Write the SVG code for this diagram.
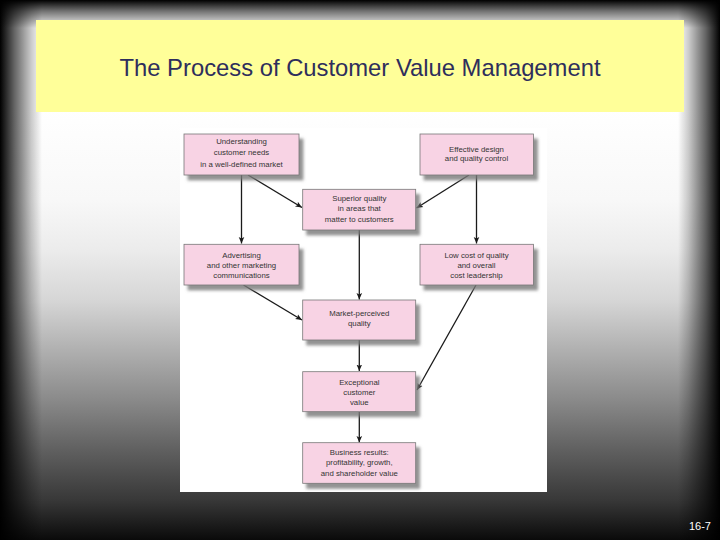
<svg xmlns="http://www.w3.org/2000/svg" width="720" height="540" viewBox="0 0 720 540">
<defs>
<linearGradient id="bgv" x1="0" y1="0" x2="0" y2="540" gradientUnits="userSpaceOnUse">
<stop offset="0" stop-color="#ffffff"/>
<stop offset="0.2" stop-color="#ffffff"/>
<stop offset="0.37" stop-color="#f8f8f8"/>
<stop offset="0.46" stop-color="#ececec"/>
<stop offset="0.556" stop-color="#d6d6d6"/>
<stop offset="0.648" stop-color="#b0b0b0"/>
<stop offset="0.74" stop-color="#8a8a8a"/>
<stop offset="0.833" stop-color="#606060"/>
<stop offset="0.926" stop-color="#383838"/>
<stop offset="1" stop-color="#0a0a0a"/>
</linearGradient>
<linearGradient id="edgeL" x1="0" y1="0" x2="1" y2="0">
<stop offset="0" stop-color="#000" stop-opacity="1"/>
<stop offset="0.35" stop-color="#000" stop-opacity="0.6"/>
<stop offset="0.75" stop-color="#000" stop-opacity="0.2"/>
<stop offset="1" stop-color="#000" stop-opacity="0"/>
</linearGradient>
<linearGradient id="edgeR" x1="1" y1="0" x2="0" y2="0">
<stop offset="0" stop-color="#000" stop-opacity="1"/>
<stop offset="0.35" stop-color="#000" stop-opacity="0.6"/>
<stop offset="0.75" stop-color="#000" stop-opacity="0.2"/>
<stop offset="1" stop-color="#000" stop-opacity="0"/>
</linearGradient>
<linearGradient id="edgeT" x1="0" y1="0" x2="0" y2="1">
<stop offset="0" stop-color="#000" stop-opacity="1"/>
<stop offset="0.4" stop-color="#000" stop-opacity="0.55"/>
<stop offset="1" stop-color="#000" stop-opacity="0"/>
</linearGradient>
<filter id="shadow" x="-10%" y="-10%" width="130%" height="140%">
<feDropShadow dx="4" dy="5" stdDeviation="1.6" flood-color="#777" flood-opacity="0.8"/>
</filter>
<marker id="arr" markerWidth="8" markerHeight="8" refX="6.5" refY="4" orient="auto" markerUnits="userSpaceOnUse">
<path d="M0,1.2 L6.5,4 L0,6.8 L1.5,4 Z" fill="#1a1a1a"/>
</marker>
</defs>
<style>
.box{fill:#f8d3e4;stroke:#777;stroke-width:0.8;filter:url(#shadow)}
.lbl{font-family:"Liberation Sans",Arial,sans-serif;font-size:7.8px;fill:#333;text-anchor:middle}
.con{stroke:#1a1a1a;stroke-width:1.3;fill:none;marker-end:url(#arr)}
</style>

<rect x="0" y="0" width="720" height="540" fill="url(#bgv)"/>
<rect x="0" y="0" width="42" height="540" fill="url(#edgeL)"/>
<rect x="678" y="0" width="42" height="540" fill="url(#edgeR)"/>
<rect x="0" y="0" width="720" height="28" fill="url(#edgeT)"/>

<g id="title">
<rect x="36" y="20" width="648" height="92" fill="#ffff99"/>
<text x="360" y="76" font-family="'Liberation Sans',Arial,sans-serif" font-size="23.8" fill="#2e2e5c" text-anchor="middle">The Process of Customer Value Management</text>
</g>

<rect id="panel" x="180" y="128" width="367" height="364" fill="#ffffff"/>

<g id="connectors">
<line class="con" x1="241.5" y1="175" x2="241.5" y2="243.5"/>
<line class="con" x1="248" y1="175" x2="302" y2="207.5"/>
<line class="con" x1="469" y1="175" x2="416.5" y2="208"/>
<line class="con" x1="476.5" y1="175" x2="476.5" y2="243.5"/>
<line class="con" x1="359.3" y1="230" x2="359.3" y2="299.5"/>
<line class="con" x1="243.5" y1="285" x2="302" y2="320"/>
<line class="con" x1="476" y1="285" x2="417" y2="390"/>
<line class="con" x1="359.3" y1="340" x2="359.3" y2="371"/>
<line class="con" x1="359.3" y1="412" x2="359.3" y2="442.5"/>
</g>

<g id="n-understanding">
<rect class="box" x="184" y="134" width="115" height="41"/>
<text class="lbl" x="241.5" y="143.5">Understanding</text>
<text class="lbl" x="241.5" y="155">customer needs</text>
<text class="lbl" x="241.5" y="166.5">in a well-defined market</text>
</g>
<g id="n-design">
<rect class="box" x="420" y="134" width="113.5" height="41"/>
<text class="lbl" x="476.5" y="151.8">Effective design</text>
<text class="lbl" x="476.5" y="161.3">and quality control</text>
</g>
<g id="n-superior">
<rect class="box" x="302.7" y="189.3" width="113" height="40.7"/>
<text class="lbl" x="359.3" y="200.6">Superior quality</text>
<text class="lbl" x="359.3" y="211">in areas that</text>
<text class="lbl" x="359.3" y="222">matter to customers</text>
</g>
<g id="n-advertising">
<rect class="box" x="184" y="244.3" width="115" height="40.7"/>
<text class="lbl" x="241.5" y="257.8">Advertising</text>
<text class="lbl" x="241.5" y="267.8">and other marketing</text>
<text class="lbl" x="241.5" y="277.8">communications</text>
</g>
<g id="n-lowcost">
<rect class="box" x="420" y="244.3" width="113.5" height="40.7"/>
<text class="lbl" x="476.5" y="257.8">Low cost of quality</text>
<text class="lbl" x="476.5" y="267.8">and overall</text>
<text class="lbl" x="476.5" y="277.8">cost leadership</text>
</g>
<g id="n-perceived">
<rect class="box" x="302.7" y="300" width="113" height="40"/>
<text class="lbl" x="359.3" y="316">Market-perceived</text>
<text class="lbl" x="359.3" y="326">quality</text>
</g>
<g id="n-value">
<rect class="box" x="302.7" y="371.7" width="113" height="40"/>
<text class="lbl" x="359.3" y="384.5">Exceptional</text>
<text class="lbl" x="359.3" y="394.5">customer</text>
<text class="lbl" x="359.3" y="404.5">value</text>
</g>
<g id="n-results">
<rect class="box" x="302.7" y="442.7" width="113" height="40.6"/>
<text class="lbl" x="359.3" y="454.5">Business results:</text>
<text class="lbl" x="359.3" y="465">profitability, growth,</text>
<text class="lbl" x="359.3" y="475.5">and shareholder value</text>
</g>

<text id="slide-number" x="711" y="530" font-family="'Liberation Sans',Arial,sans-serif" font-size="11" fill="#ffffff" text-anchor="end">16-7</text>
</svg>
